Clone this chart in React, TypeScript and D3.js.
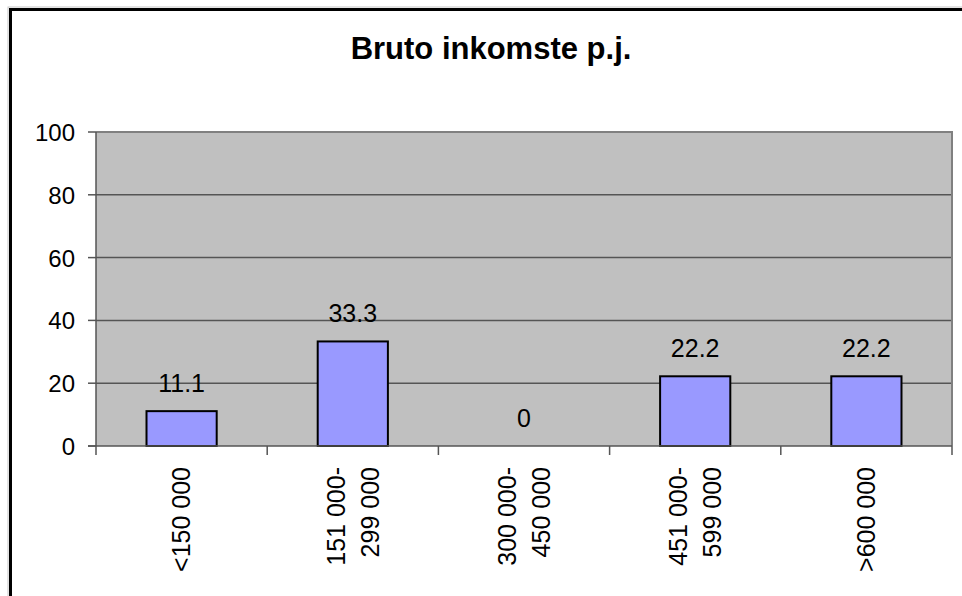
import React, { useEffect, useRef } from "react";
import * as d3 from "d3";

const categories: string[][] = [
  ["<150 000"],
  ["151 000-", "299 000"],
  ["300 000-", "450 000"],
  ["451 000-", "599 000"],
  [">600 000"],
];
const values: number[] = [11.1, 33.3, 0, 22.2, 22.2];
const yTicks: number[] = [0, 20, 40, 60, 80, 100];
const title = "Bruto inkomste p.j.";

const W = 962;
const H = 596;
const font = "'Liberation Sans', Arial, sans-serif";

export default function App() {
  const ref = useRef<SVGSVGElement>(null);

  useEffect(() => {
    const svg = d3.select(ref.current);
    svg.selectAll("*").remove();

    const plot = { left: 96, right: 952, top: 132, bottom: 446 };

    // chart area frame (runs past the right / bottom of the picture)
    svg.append("rect")
      .attr("x", 8).attr("y", 7).attr("width", 1000).attr("height", 700)
      .attr("fill", "none").attr("stroke", "#c8c8c8").attr("stroke-width", 1);
    svg.append("rect")
      .attr("x", 10.5).attr("y", 9.5).attr("width", 1000).attr("height", 700)
      .attr("fill", "#fff").attr("stroke", "#000").attr("stroke-width", 3);

    svg.append("text")
      .attr("x", 491).attr("y", 59)
      .attr("text-anchor", "middle")
      .style("font-family", font).style("font-size", "31px").style("font-weight", "bold")
      .text(title);

    const x = d3.scaleBand<number>()
      .domain(d3.range(categories.length))
      .range([plot.left, plot.right])
      .paddingInner(0.59).paddingOuter(0.295);
    const cat = d3.scaleBand<number>()
      .domain(d3.range(categories.length))
      .range([plot.left, plot.right]);
    const y = d3.scaleLinear().domain([0, 100]).range([plot.bottom, plot.top]);

    svg.append("rect")
      .attr("x", plot.left).attr("y", plot.top)
      .attr("width", plot.right - plot.left).attr("height", plot.bottom - plot.top)
      .attr("fill", "#c0c0c0");

    // gridlines
    svg.append("g").selectAll("line")
      .data(yTicks.filter(t => t > 0 && t < 100))
      .join("line")
      .attr("x1", plot.left).attr("x2", plot.right)
      .attr("y1", d => y(d)).attr("y2", d => y(d))
      .attr("stroke", "#555").attr("stroke-width", 1.5);

    // plot border
    svg.append("path")
      .attr("d", `M${plot.left},${plot.top}H${plot.right}V${plot.bottom}`)
      .attr("fill", "none").attr("stroke", "#808080").attr("stroke-width", 2);

    // bars
    svg.append("g").selectAll("rect")
      .data(values)
      .join("rect")
      .attr("x", (d, i) => x(i)!)
      .attr("width", x.bandwidth())
      .attr("y", d => y(d))
      .attr("height", d => y(0) - y(d))
      .attr("fill", "#9999ff").attr("stroke", "#000").attr("stroke-width", 2);

    // data labels
    svg.append("g").selectAll("text")
      .data(values)
      .join("text")
      .attr("x", (d, i) => x(i)! + x.bandwidth() / 2)
      .attr("y", d => y(d) - 19)
      .attr("text-anchor", "middle")
      .style("font-family", font).style("font-size", "25px")
      .text(d => String(d));

    // axes lines
    svg.append("line")
      .attr("x1", plot.left).attr("x2", plot.left)
      .attr("y1", plot.top).attr("y2", plot.bottom + 9)
      .attr("stroke", "#555").attr("stroke-width", 1.5);
    svg.append("line")
      .attr("x1", plot.left - 8).attr("x2", plot.right)
      .attr("y1", plot.bottom).attr("y2", plot.bottom)
      .attr("stroke", "#555").attr("stroke-width", 1.5);

    // y ticks
    const yg = svg.append("g");
    yg.selectAll("line")
      .data(yTicks)
      .join("line")
      .attr("x1", plot.left - 8).attr("x2", plot.left)
      .attr("y1", d => y(d)).attr("y2", d => y(d))
      .attr("stroke", "#555").attr("stroke-width", 1.5);
    yg.selectAll("text")
      .data(yTicks)
      .join("text")
      .attr("x", 75).attr("y", d => y(d) + 9)
      .attr("text-anchor", "end")
      .style("font-family", font).style("font-size", "24px")
      .text(d => String(d));

    // x ticks at category boundaries
    svg.append("g").selectAll("line")
      .data(d3.range(1, categories.length + 1))
      .join("line")
      .attr("x1", i => cat.step() * i + plot.left)
      .attr("x2", i => cat.step() * i + plot.left)
      .attr("y1", plot.bottom).attr("y2", plot.bottom + 9)
      .attr("stroke", "#555").attr("stroke-width", 1.5);

    // category labels (rotated)
    const lineGap = 34;
    categories.forEach((lines, i) => {
      const cx = cat(i)! + cat.bandwidth() / 2;
      lines.forEach((ln, j) => {
        const off = (j - (lines.length - 1) / 2) * lineGap;
        svg.append("text")
          .attr("transform", `translate(${cx + off},467) rotate(-90)`)
          .attr("text-anchor", "end")
          .attr("dy", "0.35em")
          .style("font-family", font).style("font-size", "25px")
          .text(ln);
      });
    });
  }, []);

  return (
    <svg ref={ref} width={W} height={H}
      style={{ position: "absolute", left: 0, top: 0, background: "#fff" }} />
  );
}
